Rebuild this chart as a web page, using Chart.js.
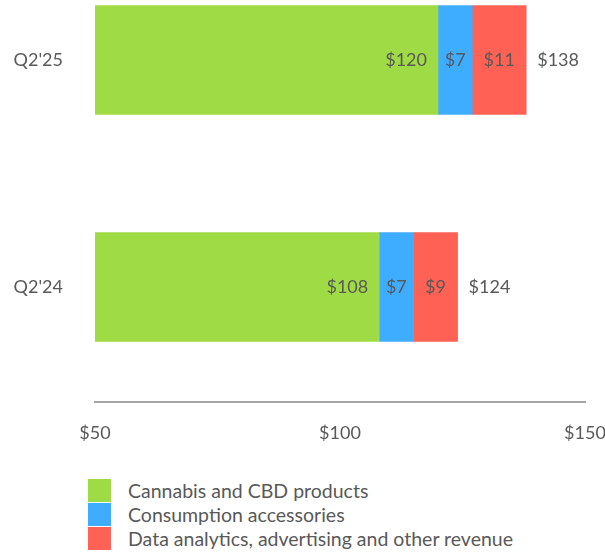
<!DOCTYPE html>
<html lang="en">
<head>
  <meta charset="UTF-8">
  <title>Revenue by segment</title>
  <script src="https://cdn.jsdelivr.net/npm/chart.js"></script>
  <style>
    body { margin: 0; background: #fff; font-family: Lato, sans-serif; color: #595959; }
    #wrap { position: relative; width: 605px; height: 470px; }
    #legend { position: absolute; left: 88px; top: 478px; margin: 0; padding: 0; list-style: none; }
    #legend li { display: flex; align-items: center; height: 24px; font-size: 19.5px; }
    #legend span { display: inline-block; width: 23px; height: 23px; margin-right: 17px; }
  </style>
</head>
<body>
  <div id="wrap"><canvas id="chart"></canvas></div>
  <ul id="legend"></ul>

  <script>
    const categories = ["Q2'25", "Q2'24"];
    const seriesNames = ['Cannabis and CBD products', 'Consumption accessories', 'Data analytics, advertising and other revenue'];
    const cannabis = [120, 108];
    const accessories = [7, 7];
    const dataRevenue = [11, 9];
    const totals = [138, 124];
    const xTicks = [50, 100, 150];
    const colors = ['#9fdb45', '#3fadff', '#ff6154'];

    const series = [cannabis, accessories, dataRevenue];
    const textColor = '#595959';
    const font = { family: 'Lato, sans-serif', size: 18 };

    // value labels inside the segments, total after the bar
    const valueLabels = {
      id: 'valueLabels',
      afterDatasetsDraw(chart) {
        const ctx = chart.ctx;
        ctx.save();
        ctx.font = font.size + 'px ' + font.family;
        ctx.fillStyle = textColor;
        ctx.textBaseline = 'middle';
        chart.data.datasets.forEach((ds, di) => {
          chart.getDatasetMeta(di).data.forEach((bar, i) => {
            const p = bar.getProps(['x', 'y', 'base'], true);
            const txt = '$' + series[di][i];
            if (di === 0) {
              ctx.textAlign = 'right';
              ctx.fillText(txt, p.x - 11, p.y);
            } else {
              ctx.textAlign = 'center';
              ctx.fillText(txt, (p.x + p.base) / 2, p.y);
            }
            if (di === chart.data.datasets.length - 1) {
              ctx.textAlign = 'left';
              ctx.fillText('$' + totals[i], p.x + 11, p.y);
            }
          });
        });
        ctx.restore();
      }
    };

    new Chart(document.getElementById('chart'), {
      type: 'bar',
      data: {
        datasets: series.map((vals, di) => ({
          label: seriesNames[di],
          data: vals.map((v, i) => ({ x: v, y: i })),
          backgroundColor: colors[di],
          borderWidth: 0,
          barThickness: 109
        }))
      },
      options: {
        indexAxis: 'y',
        responsive: true,
        maintainAspectRatio: false,
        animation: false,
        layout: { padding: { right: 20 } },
        plugins: { legend: { display: false }, tooltip: { enabled: false } },
        scales: {
          x: {
            type: 'linear',
            stacked: true,
            min: 50,
            max: 150,
            afterBuildTicks: s => { s.ticks = xTicks.map(v => ({ value: v })); },
            afterFit: s => { s.height = 68; s.paddingRight = 0; s.paddingLeft = 0; },
            grid: { display: false, drawTicks: false },
            border: { display: true, color: '#a6a6a6', width: 2 },
            ticks: { padding: 20, color: textColor, font, callback: v => '$' + v }
          },
          y: {
            type: 'linear',
            stacked: true,
            reverse: true,
            offset: false,
            min: -0.2643,
            max: 1.5066,
            afterBuildTicks: s => { s.ticks = categories.map((c, i) => ({ value: i })); },
            afterFit: s => { s.width = 95; s.paddingTop = 0; s.paddingBottom = 0; },
            grid: { display: false, drawTicks: false },
            border: { display: false },
            ticks: { padding: 32, color: textColor, font, callback: v => categories[v] }
          }
        }
      },
      plugins: [valueLabels]
    });

    document.getElementById('legend').innerHTML = seriesNames
      .map((n, i) => `<li><span style="background:${colors[i]}"></span>${n}</li>`)
      .join('');
  </script>
</body>
</html>
